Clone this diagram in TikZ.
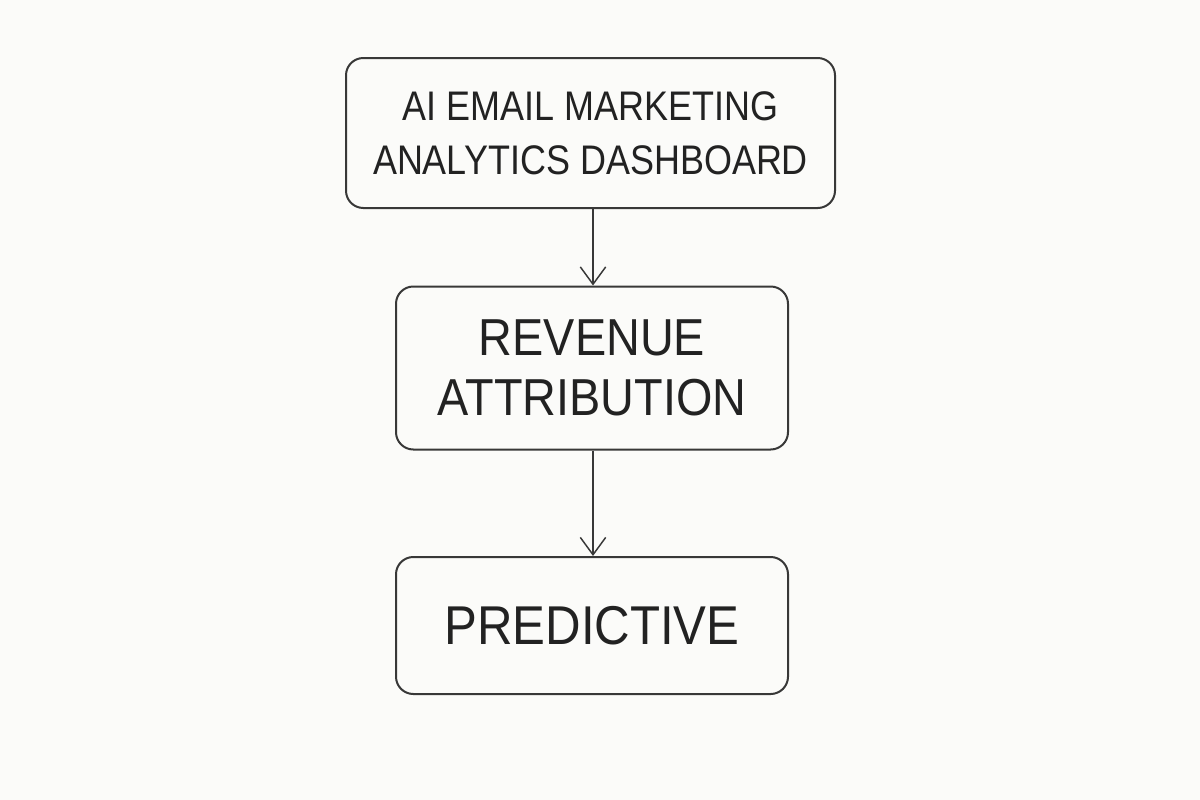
\documentclass[tikz,border=0pt]{standalone}
\usepackage{fontspec}
\setmainfont{Liberation Sans}[FakeStretch=0.9]
\newfontfamily\topfont{Liberation Sans}[FakeStretch=0.87]
\usetikzlibrary{arrows.meta}
\definecolor{bg}{HTML}{FBFBF9}
\definecolor{ink}{HTML}{383838}
\definecolor{txt}{HTML}{222222}
\tikzset{
  flowbox/.style={draw=ink, line width=1.5pt, rounded corners=13pt, fill=bg,
    text=txt, align=center, inner sep=0pt},
  flowarrow/.style={draw=ink, line width=1.1pt,
    -{Straight Barb[length=13pt,width=19pt,line width=1.1pt]}}
}
\begin{document}
\begin{tikzpicture}[x=0.75pt,y=-0.75pt]
\fill[bg] (0,0) rectangle (1200,800);
\useasboundingbox (0,0) rectangle (1200,800);
\node[flowbox, minimum width=366.75pt, minimum height=112.5pt,
  font=\topfont\fontsize{31}{40.5}\selectfont] (a) at (590.5,133) {AI EMAIL MARKETING\\ANALYTICS DASHBOARD};
\node[flowbox, minimum width=294pt, minimum height=122.25pt,
  font=\fontsize{39}{45}\selectfont] (b) at (592,368) {REVENUE\\ATTRIBUTION};
\node[flowbox, minimum width=294pt, minimum height=102.75pt,
  font=\fontsize{41}{45}\selectfont] (c) at (592,625.5) {PREDICTIVE};
\draw[flowarrow] (a.south -| 593,0) -- (b.north -| 593,0);
\draw[flowarrow] (b.south -| 593,0) -- (c.north -| 593,0);
\end{tikzpicture}
\end{document}
